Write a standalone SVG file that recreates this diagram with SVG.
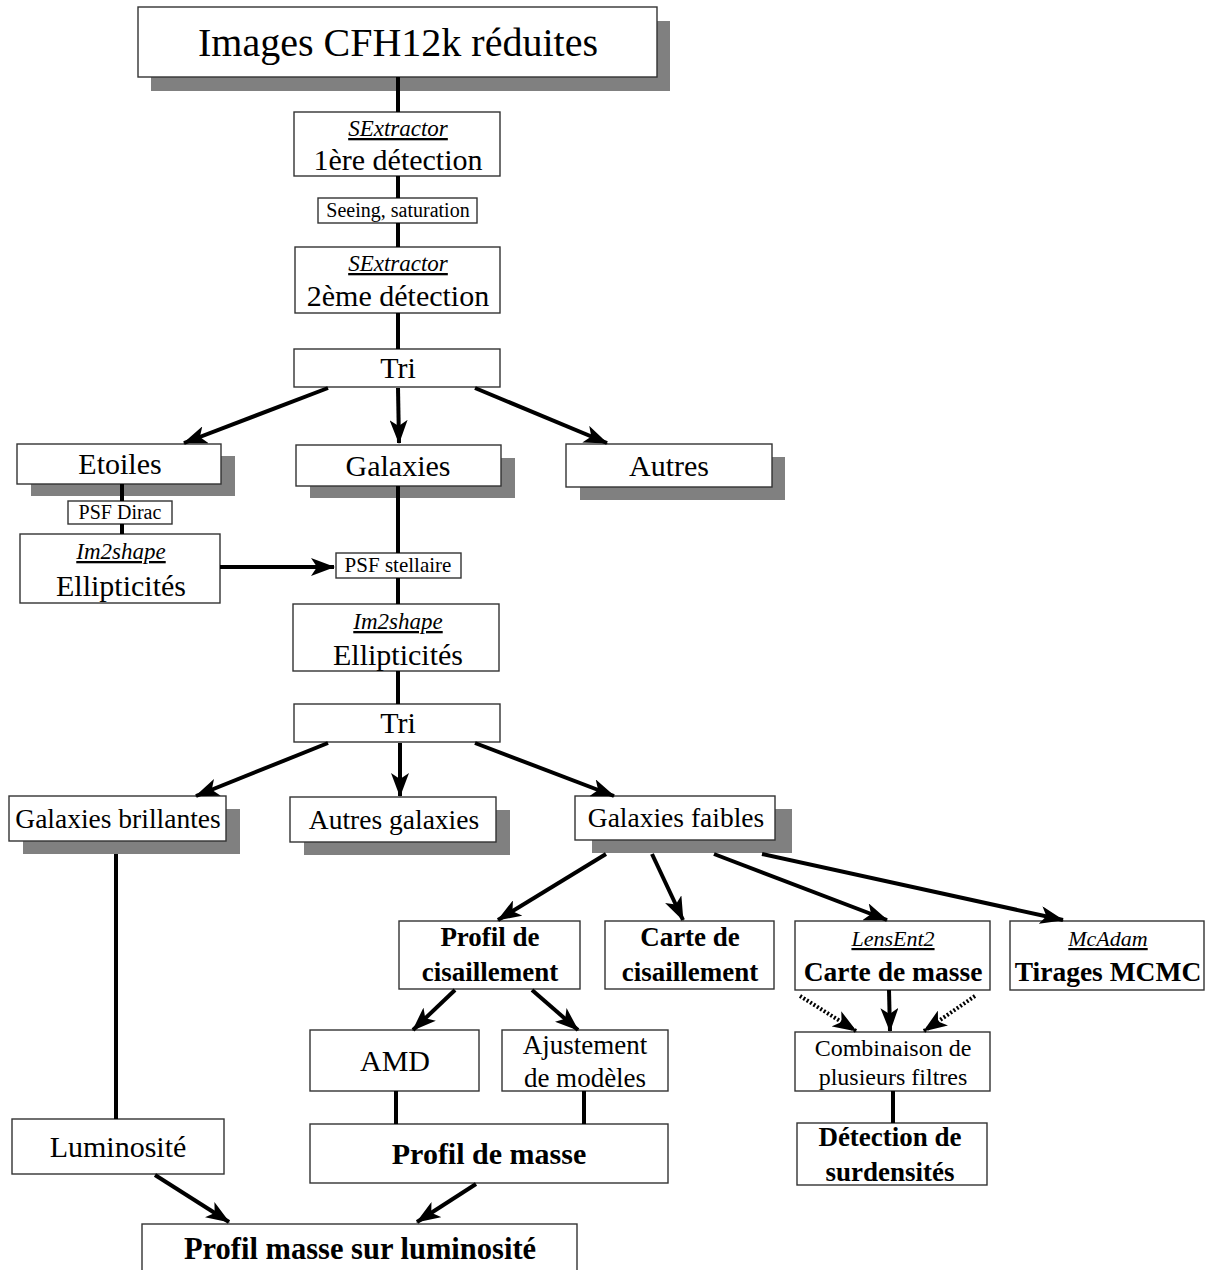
<svg xmlns="http://www.w3.org/2000/svg" width="1208" height="1270" viewBox="0 0 1208 1270">
<style>
.box{fill:#fff;stroke:#333;stroke-width:1.4}
.sh{fill:#808080}
.t{font-family:"Liberation Serif","Times New Roman",serif;fill:#000;text-anchor:middle}
.b{font-weight:bold}
.i{font-style:italic;text-decoration:underline}
.c{fill:none;stroke:#000;stroke-width:4}
.d{stroke-dasharray:2,2}
</style>
<defs>
<marker id="ah" markerUnits="userSpaceOnUse" markerWidth="24" markerHeight="18" viewBox="0 0 24 18" refX="23" refY="9" orient="auto">
<path d="M0,0 L24,9 L0,18 L6,9 z" fill="#000"/>
</marker>
</defs>
<rect width="1208" height="1270" fill="#fff"/>

<g id="title">
<rect class="sh" x="151" y="21" width="519" height="70"/>
<rect class="box" x="138" y="7" width="519" height="70"/>
<text class="t" x="398" y="56" font-size="40">Images CFH12k réduites</text>
</g>
<g id="sex1">
<rect class="box" x="294" y="112" width="206" height="64"/>
<text class="t i" x="398" y="136" font-size="23">SExtractor</text>
<text class="t" x="398" y="170" font-size="30">1ère détection</text>
</g>
<g id="seeing">
<rect class="box" x="318" y="198" width="159" height="25"/>
<text class="t" x="398" y="217" font-size="20">Seeing, saturation</text>
</g>
<g id="sex2">
<rect class="box" x="295" y="247" width="205" height="66"/>
<text class="t i" x="398" y="271" font-size="23">SExtractor</text>
<text class="t" x="398" y="306" font-size="30">2ème détection</text>
</g>
<g id="tri1">
<rect class="box" x="294" y="349" width="206" height="38"/>
<text class="t" x="398" y="378" font-size="30">Tri</text>
</g>
<g id="etoiles">
<rect class="sh" x="31" y="456" width="204" height="40"/>
<rect class="box" x="17" y="444" width="204" height="40"/>
<text class="t" x="120" y="474" font-size="30">Etoiles</text>
</g>
<g id="galaxies">
<rect class="sh" x="310" y="458" width="205" height="40"/>
<rect class="box" x="296" y="445" width="205" height="41"/>
<text class="t" x="398" y="476" font-size="30">Galaxies</text>
</g>
<g id="autres">
<rect class="sh" x="580" y="457" width="205" height="43"/>
<rect class="box" x="566" y="444" width="206" height="43"/>
<text class="t" x="669" y="476" font-size="30">Autres</text>
</g>
<g id="psfdirac">
<rect class="box" x="68" y="501" width="104" height="23"/>
<text class="t" x="120" y="519" font-size="20">PSF Dirac</text>
</g>
<g id="im2shape1">
<rect class="box" x="20" y="534" width="200" height="69"/>
<text class="t i" x="121" y="559" font-size="23">Im2shape</text>
<text class="t" x="121" y="596" font-size="30">Ellipticités</text>
</g>
<g id="psfstel">
<rect class="box" x="336" y="553" width="125" height="25"/>
<text class="t" x="398" y="572" font-size="21">PSF stellaire</text>
</g>
<g id="im2shape2">
<rect class="box" x="293" y="604" width="206" height="67"/>
<text class="t i" x="398" y="629" font-size="23">Im2shape</text>
<text class="t" x="398" y="665" font-size="30">Ellipticités</text>
</g>
<g id="tri2">
<rect class="box" x="294" y="704" width="206" height="38"/>
<text class="t" x="398" y="733" font-size="30">Tri</text>
</g>
<g id="galbrill">
<rect class="sh" x="23" y="809" width="217" height="45"/>
<rect class="box" x="9" y="796" width="217" height="45"/>
<text class="t" x="118" y="828" font-size="27.5">Galaxies brillantes</text>
</g>
<g id="autresgal">
<rect class="sh" x="304" y="810" width="206" height="45"/>
<rect class="box" x="290" y="797" width="206" height="45"/>
<text class="t" x="394" y="829" font-size="27.5">Autres galaxies</text>
</g>
<g id="galfaibles">
<rect class="sh" x="592" y="809" width="200" height="44"/>
<rect class="box" x="575" y="796" width="200" height="44"/>
<text class="t" x="676" y="827" font-size="27.5">Galaxies faibles</text>
</g>
<g id="profilcis">
<rect class="box" x="399" y="921" width="181" height="68"/>
<text class="t b" x="490" y="946" font-size="27">Profil de</text>
<text class="t b" x="490" y="981" font-size="27">cisaillement</text>
</g>
<g id="cartecis">
<rect class="box" x="605" y="921" width="169" height="68"/>
<text class="t b" x="690" y="946" font-size="27">Carte de</text>
<text class="t b" x="690" y="981" font-size="27">cisaillement</text>
</g>
<g id="lensent">
<rect class="box" x="795" y="921" width="195" height="69"/>
<text class="t i" x="893" y="946" font-size="22">LensEnt2</text>
<text class="t b" x="893" y="981" font-size="27.5">Carte de masse</text>
</g>
<g id="mcadam">
<rect class="box" x="1010" y="921" width="194" height="69"/>
<text class="t i" x="1108" y="946" font-size="22">McAdam</text>
<text class="t b" x="1108" y="981" font-size="27.5">Tirages MCMC</text>
</g>
<g id="amd">
<rect class="box" x="310" y="1030" width="169" height="61"/>
<text class="t" x="395" y="1071" font-size="30">AMD</text>
</g>
<g id="ajust">
<rect class="box" x="502" y="1030" width="166" height="61"/>
<text class="t" x="585" y="1054" font-size="27">Ajustement</text>
<text class="t" x="585" y="1087" font-size="27">de modèles</text>
</g>
<g id="combi">
<rect class="box" x="795" y="1032" width="195" height="59"/>
<text class="t" x="893" y="1056" font-size="24">Combinaison de</text>
<text class="t" x="893" y="1085" font-size="24">plusieurs filtres</text>
</g>
<g id="lumin">
<rect class="box" x="12" y="1119" width="212" height="55"/>
<text class="t" x="118" y="1157" font-size="30">Luminosité</text>
</g>
<g id="profilmasse">
<rect class="box" x="310" y="1124" width="358" height="59"/>
<text class="t b" x="489" y="1164" font-size="30">Profil de masse</text>
</g>
<g id="detection">
<rect class="box" x="797" y="1123" width="190" height="62"/>
<text class="t b" x="890" y="1146" font-size="27">Détection de</text>
<text class="t b" x="890" y="1181" font-size="27">surdensités</text>
</g>
<g id="mlprofile">
<rect class="box" x="142" y="1224" width="435" height="60"/>
<text class="t b" x="360" y="1259" font-size="30.5">Profil masse sur luminosité</text>
</g>

<g id="connectors">
<path class="c" d="M398,77 L398,112"/>
<path class="c" d="M398,176 L398,198"/>
<path class="c" d="M398,223 L398,247"/>
<path class="c" d="M398,313 L398,349"/>
<path class="c" d="M328,388 L184,443" marker-end="url(#ah)"/>
<path class="c" d="M398,388 L399,443" marker-end="url(#ah)"/>
<path class="c" d="M475,388 L607,443" marker-end="url(#ah)"/>
<path class="c" d="M122,484 L122,501"/>
<path class="c" d="M122,524 L122,534"/>
<path class="c" d="M398,486 L398,553"/>
<path class="c" d="M220,567 L334,567" marker-end="url(#ah)"/>
<path class="c" d="M398,578 L398,604"/>
<path class="c" d="M398,671 L398,704"/>
<path class="c" d="M328,743 L196,796" marker-end="url(#ah)"/>
<path class="c" d="M400,743 L400,796" marker-end="url(#ah)"/>
<path class="c" d="M475,743 L614,796" marker-end="url(#ah)"/>
<path class="c" d="M116,854 L116,1119"/>
<path class="c" d="M606,854 L498,920" marker-end="url(#ah)"/>
<path class="c" d="M652,854 L683,920" marker-end="url(#ah)"/>
<path class="c" d="M714,854 L887,920" marker-end="url(#ah)"/>
<path class="c" d="M762,854 L1063,920" marker-end="url(#ah)"/>
<path class="c" d="M455,990 L413,1030" marker-end="url(#ah)"/>
<path class="c" d="M532,990 L578,1030" marker-end="url(#ah)"/>
<path class="c d" d="M800,996 L856,1031" marker-end="url(#ah)"/>
<path class="c" d="M889,990 L890,1031" marker-end="url(#ah)"/>
<path class="c d" d="M975,996 L924,1031" marker-end="url(#ah)"/>
<path class="c" d="M396,1091 L396,1124"/>
<path class="c" d="M584,1091 L584,1124"/>
<path class="c" d="M893,1091 L893,1123"/>
<path class="c" d="M155,1175 L229,1222" marker-end="url(#ah)"/>
<path class="c" d="M476,1184 L417,1222" marker-end="url(#ah)"/>
</g>
</svg>
